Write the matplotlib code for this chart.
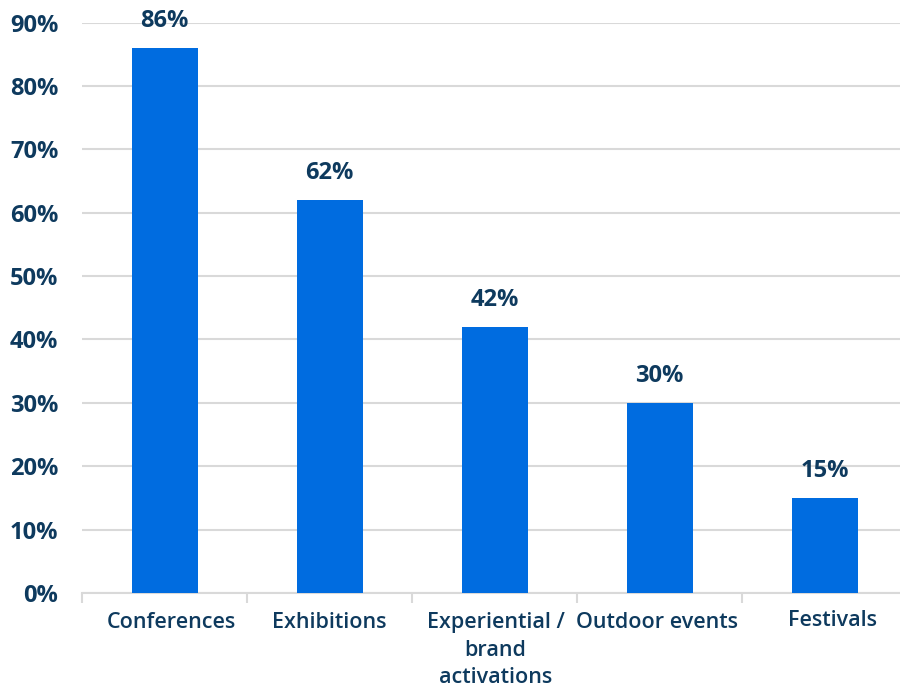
import matplotlib.pyplot as plt
from matplotlib.transforms import ScaledTranslation
from matplotlib.ticker import FixedLocator, MultipleLocator, FuncFormatter

categories = ["Conferences", "Exhibitions", "Experiential /\nbrand\nactivations",
              "Outdoor events", "Festivals"]
values = [86, 62, 42, 30, 15]

bar_color = "#006ce0"
text_color = "#0e3a5e"
grid_color = "#d9d9d9"

plt.rcParams["font.family"] = ["Open Sans", "DejaVu Sans"]

fig = plt.figure(figsize=(9, 6.84), dpi=100)
ax = fig.add_axes([82 / 900, 1 - 593 / 684, 825 / 900, (593 - 22.5) / 684])

x = list(range(len(categories)))
ax.bar(x, values, width=0.4, color=bar_color, zorder=3)

for xi, v in zip(x, values):
    ax.annotate(f"{v}%", (xi, v), xytext=(0, 15), textcoords="offset points",
                ha="center", va="baseline", fontsize=17, fontweight="bold",
                color=text_color)

ax.set_xlim(-0.5, len(categories) - 0.5)
ax.set_ylim(0, 90)
ax.yaxis.set_major_locator(MultipleLocator(10))
ax.yaxis.set_major_formatter(FuncFormatter(lambda v, p: f"{v:.0f}%"))
ax.grid(axis="y", color=grid_color, linewidth=1.5, zorder=0)

ax.set_xticks(x)
ax.set_xticklabels(categories, fontsize=15.5, fontweight="semibold",
                   color=text_color, linespacing=1.4, va="top")
ax.tick_params(axis="x", which="major", length=0, pad=14)
ax.xaxis.set_minor_locator(FixedLocator([i - 0.5 for i in range(len(categories) + 1)]))
ax.tick_params(axis="x", which="minor", length=7, color=grid_color, width=1.5)

# nudge a few category labels (pixels at 100 dpi)
nudges = {0: (7, 0), 2: (1, 0), 3: (-2, 0), 4: (8, 2)}
for i, lbl in enumerate(ax.get_xticklabels()):
    dx, dy = nudges.get(i, (0, 0))
    if dx or dy:
        lbl.set_transform(lbl.get_transform()
                          + ScaledTranslation(dx / 100, dy / 100, fig.dpi_scale_trans))

ax.tick_params(axis="y", length=0, pad=17, labelsize=17, labelcolor=text_color)
for lbl in ax.get_yticklabels():
    lbl.set_fontweight("bold")

for side in ["left", "right", "top"]:
    ax.spines[side].set_visible(False)
ax.spines["bottom"].set_color(grid_color)
ax.spines["bottom"].set_linewidth(1.5)

fig.savefig("out.png", dpi=100)
